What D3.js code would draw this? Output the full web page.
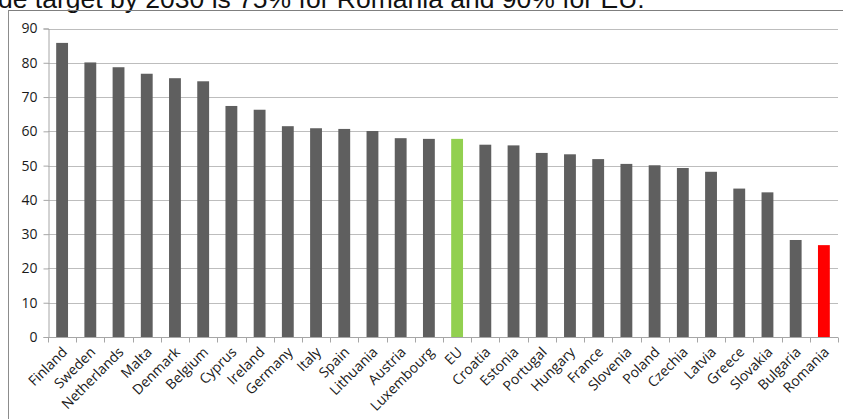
<!DOCTYPE html>
<html>
<head>
<meta charset="utf-8">
<script src="https://cdn.jsdelivr.net/npm/d3@7"></script>
<style>
  html, body { margin: 0; padding: 0; background: #fff; }
  svg { display: block; }
</style>
</head>
<body>
<svg id="chart" width="843" height="419"></svg>
<script>
// Share of renewable energy, by country
const countries = ["Finland", "Sweden", "Netherlands", "Malta", "Denmark", "Belgium", "Cyprus",
  "Ireland", "Germany", "Italy", "Spain", "Lithuania", "Austria", "Luxembourg", "EU", "Croatia",
  "Estonia", "Portugal", "Hungary", "France", "Slovenia", "Poland", "Czechia", "Latvia", "Greece",
  "Slovakia", "Bulgaria", "Romania"];
const values = [85.8, 80.1, 78.7, 76.8, 75.5, 74.6, 67.4, 66.3, 61.5, 60.9, 60.7, 60.1, 58.0, 57.8,
  57.8, 56.1, 55.9, 53.7, 53.3, 51.9, 50.5, 50.1, 49.3, 48.2, 43.3, 42.2, 28.3, 26.8];
const yTicks = [0, 10, 20, 30, 40, 50, 60, 70, 80, 90];
const headline = "de target by 2030 is 75% for Romania and 90% for EU.";

const highlight = { "EU": "#92d050", "Romania": "#ff0000" };
const barColor = "#5f5f5f";

const svg = d3.select("#chart");

// caption line above the chart box
svg.append("text")
  .attr("x", -2).attr("y", 8)
  .attr("font-family", "Liberation Sans, Arial, sans-serif")
  .attr("font-size", 26.5)
  .attr("fill", "#111")
  .text(headline);

// chart box
svg.append("line").attr("x1", 8).attr("x2", 843).attr("y1", 10.5).attr("y2", 10.5)
  .attr("stroke", "#7f7f7f").attr("stroke-width", 1);
svg.append("line").attr("x1", 8.5).attr("x2", 8.5).attr("y1", 10).attr("y2", 419)
  .attr("stroke", "#8c8c8c").attr("stroke-width", 1);

const plot = { left: 48, right: 838, top: 28.5, bottom: 337 };

const x = d3.scaleBand().domain(countries).range([plot.left, plot.right]).paddingInner(0.58).paddingOuter(0.29);
const y = d3.scaleLinear().domain([0, 90]).range([plot.bottom, plot.top]);

// gridlines
svg.append("g")
  .selectAll("line").data(yTicks.filter(d => d > 0)).join("line")
  .attr("x1", plot.left).attr("x2", plot.right)
  .attr("y1", d => Math.round(y(d)) + 0.5).attr("y2", d => Math.round(y(d)) + 0.5)
  .attr("stroke", "#bdbdbd").attr("stroke-width", 1.2);

// bars
svg.append("g")
  .selectAll("rect").data(countries).join("rect")
  .attr("x", d => x(d))
  .attr("width", x.bandwidth())
  .attr("y", (d, i) => y(values[i]))
  .attr("height", (d, i) => y(0) - y(values[i]))
  .attr("fill", d => highlight[d] || barColor);

// y axis
const yAxis = d3.axisLeft(y).tickValues(yTicks).tickSize(5).tickPadding(6);
const gy = svg.append("g").attr("transform", `translate(${plot.left + 0.5},0)`).call(yAxis);
gy.select(".domain").attr("stroke", "#a6a6a6");
gy.selectAll(".tick line").attr("stroke", "#a6a6a6");
gy.selectAll(".tick text")
  .attr("font-family", "Open Sans, sans-serif").attr("font-size", 14).attr("fill", "#1a1a1a");

// x axis: ticks sit on the band boundaries
const xLine = svg.append("g").attr("transform", `translate(0,${Math.round(plot.bottom) + 0.5})`);
xLine.append("line").attr("x1", plot.left).attr("x2", plot.right)
  .attr("stroke", "#a6a6a6");
const bounds = d3.range(countries.length + 1).map(i => plot.left + i * (plot.right - plot.left) / countries.length);
xLine.selectAll("line.tk").data(bounds).join("line").attr("class", "tk")
  .attr("x1", d => Math.round(d) + 0.5).attr("x2", d => Math.round(d) + 0.5)
  .attr("y1", 0).attr("y2", 5).attr("stroke", "#a6a6a6");

// rotated category labels
svg.append("g").selectAll("text").data(countries).join("text")
  .attr("transform", d => `translate(${x(d) + x.bandwidth() / 2 + 6},${plot.bottom + 16}) rotate(-45)`)
  .attr("text-anchor", "end")
  .attr("font-family", "Open Sans, sans-serif")
  .attr("font-size", 14)
  .attr("fill", "#1a1a1a")
  .text(d => d);
</script>
</body>
</html>
